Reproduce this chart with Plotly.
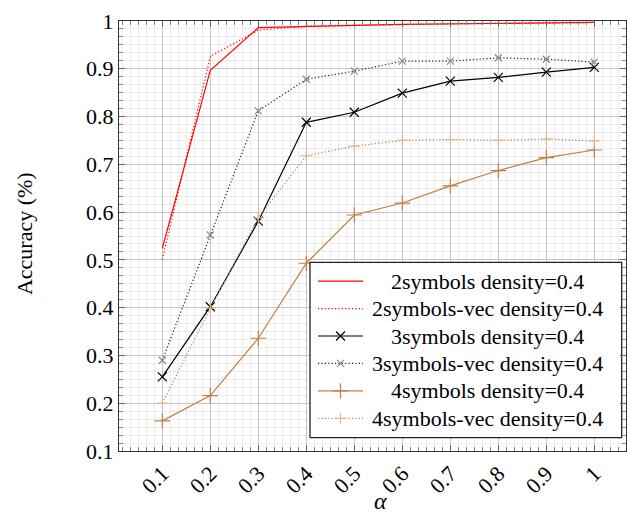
import plotly.graph_objects as go

# ---- data -------------------------------------------------------------
alpha = [0.1, 0.2, 0.3, 0.4, 0.5, 0.6, 0.7, 0.8, 0.9, 1.0]
x_tick_labels = ["0.1", "0.2", "0.3", "0.4", "0.5", "0.6", "0.7", "0.8", "0.9", "1"]
y_ticks = [0.1, 0.2, 0.3, 0.4, 0.5, 0.6, 0.7, 0.8, 0.9, 1.0]
y_tick_labels = ["0.1", "0.2", "0.3", "0.4", "0.5", "0.6", "0.7", "0.8", "0.9", "1"]

acc_2sym = [0.524, 0.897, 0.986, 0.989, 0.991, 0.993, 0.994, 0.995, 0.996, 0.997]
acc_2sym_vec = [0.501, 0.926, 0.981, 0.989, 0.991, 0.993, 0.994, 0.995, 0.996, 0.997]
acc_3sym = [0.255, 0.402, 0.581, 0.788, 0.809, 0.849, 0.874, 0.882, 0.893, 0.903]
acc_3sym_vec = [0.290, 0.552, 0.812, 0.878, 0.895, 0.916, 0.916, 0.923, 0.920, 0.914]
acc_4sym = [0.163, 0.216, 0.336, 0.493, 0.594, 0.619, 0.655, 0.687, 0.714, 0.730]
acc_4sym_vec = [0.200, 0.399, 0.588, 0.718, 0.738, 0.750, 0.752, 0.750, 0.753, 0.749]

series_names = [
    "2symbols density=0.4",
    "2symbols-vec density=0.4",
    "3symbols density=0.4",
    "3symbols-vec density=0.4",
    "4symbols density=0.4",
    "4symbols-vec density=0.4",
]
series_values = [acc_2sym, acc_2sym_vec, acc_3sym, acc_3sym_vec, acc_4sym, acc_4sym_vec]

# ---- styles -----------------------------------------------------------
RED = "#ff0000"
BLACK = "#000000"
BROWN = "#bf8040"
FONT = "Liberation Serif"
FS = 22
DOTTED = "1.2px,2.2px"

styles = [
    dict(color=RED, dash="solid", symbol=None, msize=0, mcolor=RED),
    dict(color=RED, dash=DOTTED, symbol=None, msize=0, mcolor=RED),
    dict(color=BLACK, dash="solid", symbol="x-thin", msize=9, mcolor=BLACK),
    dict(color="#222222", dash=DOTTED, symbol="x-thin", msize=7, mcolor="#888888"),
    dict(color=BROWN, dash="solid", symbol="cross-thin", msize=11, mcolor=BROWN),
    dict(color=BROWN, dash=DOTTED, symbol="cross-thin", msize=8, mcolor="#dcb894"),
]

fig = go.Figure()

for name, vals, st in zip(series_names, series_values, styles):
    mode = "lines+markers" if st["symbol"] else "lines"
    marker = dict(symbol=st["symbol"], size=st["msize"],
                  line=dict(color=st["mcolor"], width=1.2)) if st["symbol"] else None
    fig.add_trace(go.Scatter(
        x=alpha, y=vals, name=name, mode=mode,
        line=dict(color=st["color"], width=1.2, dash=st["dash"]),
        marker=marker, showlegend=False, cliponaxis=False,
    ))

# ---- hand-built legend on an overlaid unit axis ------------------------
box_x0, box_x1, box_y0, box_y1 = 0.3767, 0.9915, 0.031, 0.4388
fig.add_trace(go.Scatter(
    x=[box_x0, box_x1, box_x1, box_x0, box_x0],
    y=[box_y0, box_y0, box_y1, box_y1, box_y0],
    mode="lines", fill="toself", fillcolor="white",
    line=dict(color="#222222", width=1.3),
    xaxis="x2", yaxis="y2", showlegend=False, hoverinfo="skip",
))

row_top, row_step = 0.395, 0.0638
sample_x0, sample_x1 = 0.3925, 0.4813
text_x = 0.7278
for i, (name, st) in enumerate(zip(series_names, styles)):
    ry = row_top - i * row_step
    fig.add_trace(go.Scatter(
        x=[sample_x0, sample_x1], y=[ry, ry], mode="lines",
        line=dict(color=st["color"], width=1.2, dash=st["dash"]),
        xaxis="x2", yaxis="y2", showlegend=False, hoverinfo="skip",
    ))
    if st["symbol"]:
        fig.add_trace(go.Scatter(
            x=[(sample_x0 + sample_x1) / 2], y=[ry], mode="markers",
            marker=dict(symbol=st["symbol"], size=st["msize"],
                        line=dict(color=st["mcolor"], width=1.2)),
            xaxis="x2", yaxis="y2", showlegend=False, hoverinfo="skip",
        ))
    fig.add_annotation(
        x=text_x, y=ry, xref="x2", yref="y2", text=name, showarrow=False,
        xanchor="center", yanchor="middle",
        font=dict(family=FONT, size=FS, color="black"),
    )

# ---- axis titles -------------------------------------------------------
fig.add_annotation(
    x=-0.185, y=0.505, xref="paper", yref="paper", text="Accuracy (%)",
    textangle=-90, showarrow=False, xanchor="center", yanchor="middle",
    font=dict(family=FONT, size=FS, color="black"),
)
fig.add_annotation(
    x=0.515, y=-0.15, xref="paper", yref="paper", text="<i>α</i>",
    showarrow=False, xanchor="center", yanchor="bottom",
    font=dict(family=FONT, size=24, color="black"),
)

axis_common = dict(
    showline=True, linecolor="#333333", linewidth=1.2, mirror="allticks",
    ticks="inside", ticklen=6, tickwidth=1, tickcolor="#666666",
    showgrid=True, gridcolor="#c4c4c4", gridwidth=1, zeroline=False,
    tickfont=dict(family=FONT, size=FS, color="black"),
)

fig.update_layout(
    width=627, height=513,
    margin=dict(l=119, r=1, t=21, b=62),
    plot_bgcolor="white", paper_bgcolor="white",
    font=dict(family=FONT),
    xaxis=dict(
        range=[0.0098, 1.066], tickvals=alpha, ticktext=x_tick_labels,
        tickangle=-45,
        minor=dict(dtick=0.1 / 6, tick0=0, ticks="inside", ticklen=4,
                   tickcolor="#888888", showgrid=True, gridcolor="#ebebeb",
                   gridwidth=1),
        **axis_common,
    ),
    yaxis=dict(
        range=[0.1, 1.0], tickvals=y_ticks, ticktext=y_tick_labels,
        minor=dict(dtick=0.1 / 6, tick0=0, ticks="inside", ticklen=4,
                   tickcolor="#888888", showgrid=True, gridcolor="#ebebeb",
                   gridwidth=1),
        **axis_common,
    ),
    xaxis2=dict(overlaying="x", range=[0, 1], visible=False, fixedrange=True),
    yaxis2=dict(overlaying="y", range=[0, 1], visible=False, fixedrange=True),
    showlegend=False,
)

fig.write_html("out.html")
